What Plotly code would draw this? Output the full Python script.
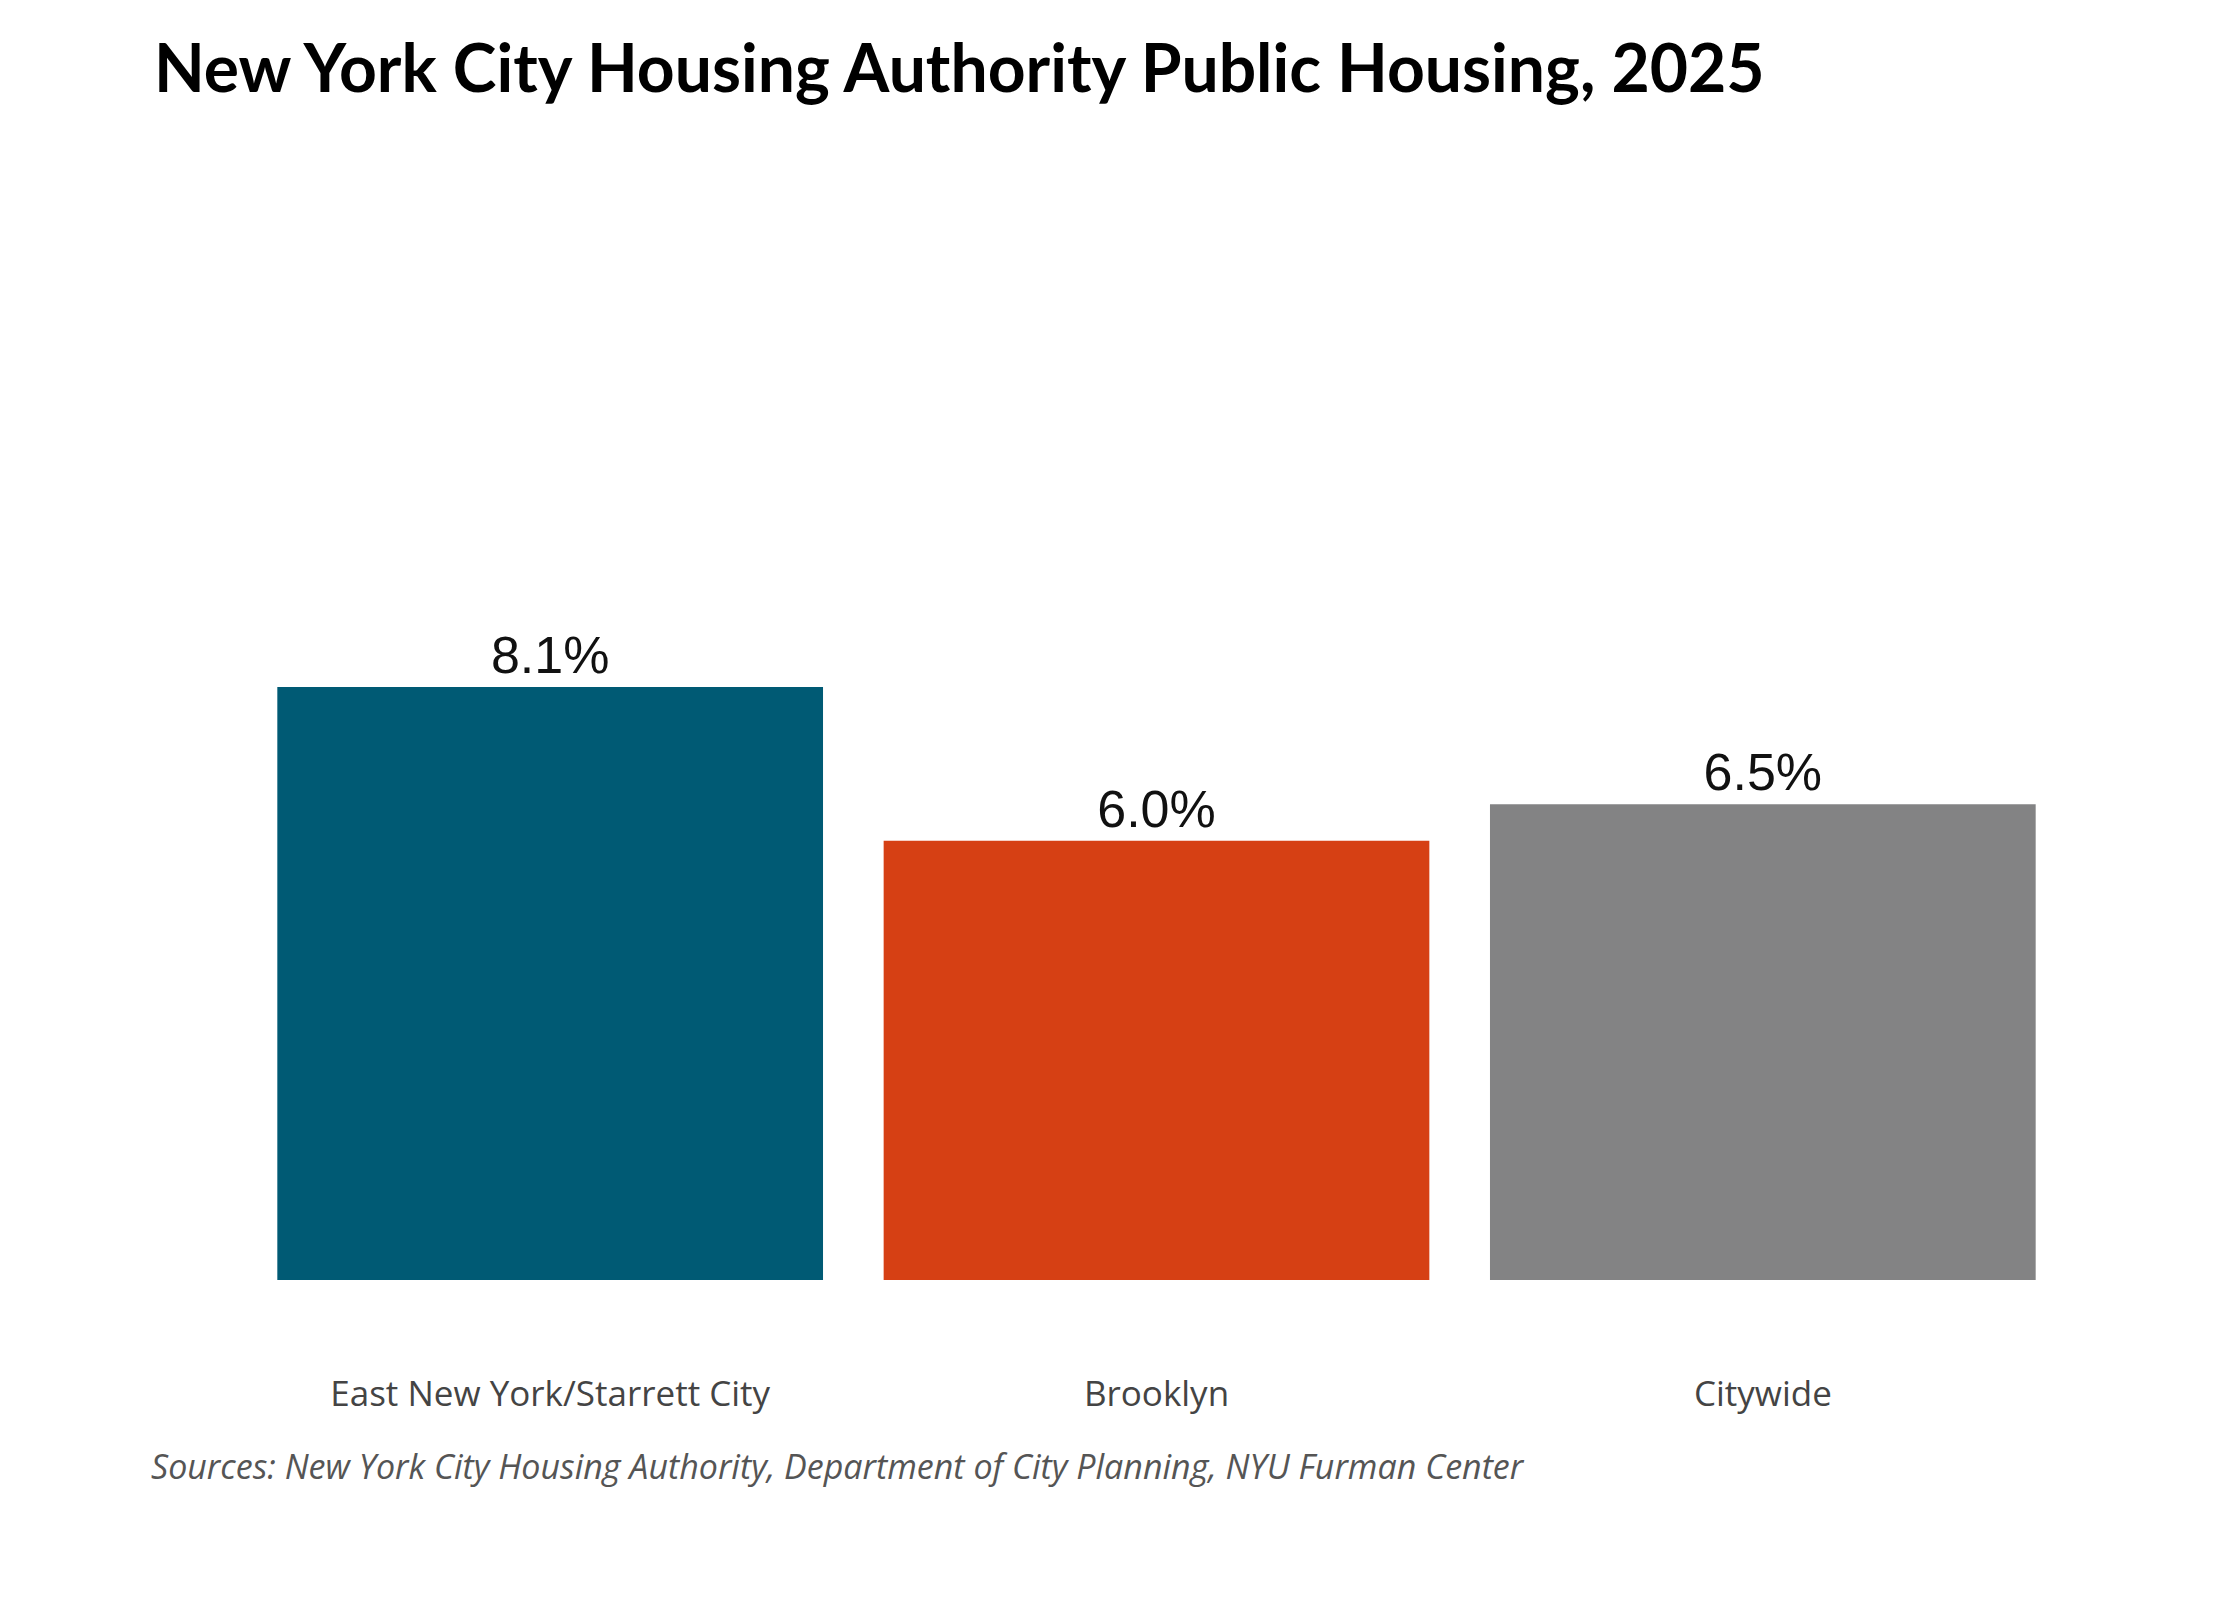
import plotly.graph_objects as go

categories = ["East New York/Starrett City", "Brooklyn", "Citywide"]
values = [8.1, 6.0, 6.5]
labels = ["8.1%", "6.0%", "6.5%"]
colors = ["#005a74", "#d64014", "#838384"]

fig = go.Figure(go.Bar(
    x=categories, y=values, marker_color=colors, marker_line_width=0,
    text=labels, textposition="outside", cliponaxis=False,
    textfont=dict(family="Liberation Sans", size=52, color="#111"),
))
fig.update_layout(
    width=2240, height=1600, paper_bgcolor="white", plot_bgcolor="white",
    margin=dict(l=239, r=182, t=540, b=328),
    bargap=0.10, showlegend=False,
)
fig.update_yaxes(range=[0, 10], visible=False)
fig.update_xaxes(showline=False, ticks="", ticklabelstandoff=90,
                 tickfont=dict(family="Open Sans", size=35, color="#444"))
fig.add_annotation(xref="paper", yref="paper", x=-0.052, y=1.0, xanchor="left", yanchor="bottom",
    yshift=440, align="left", showarrow=False,
    text="<b>Share of Rental Units Located in<br>New York City Housing Authority Public Housing, 2025</b>",
    font=dict(family="Lato", size=66, color="#000"))
fig.add_annotation(xref="paper", yref="paper", x=-0.054, y=0, xanchor="left", yanchor="middle",
    yshift=-186, showarrow=False,
    text="<i>Sources: New York City Housing Authority, Department of City Planning, NYU Furman Center</i>",
    font=dict(family="Open Sans", size=34, color="#555"))
fig.write_html("out.html")
